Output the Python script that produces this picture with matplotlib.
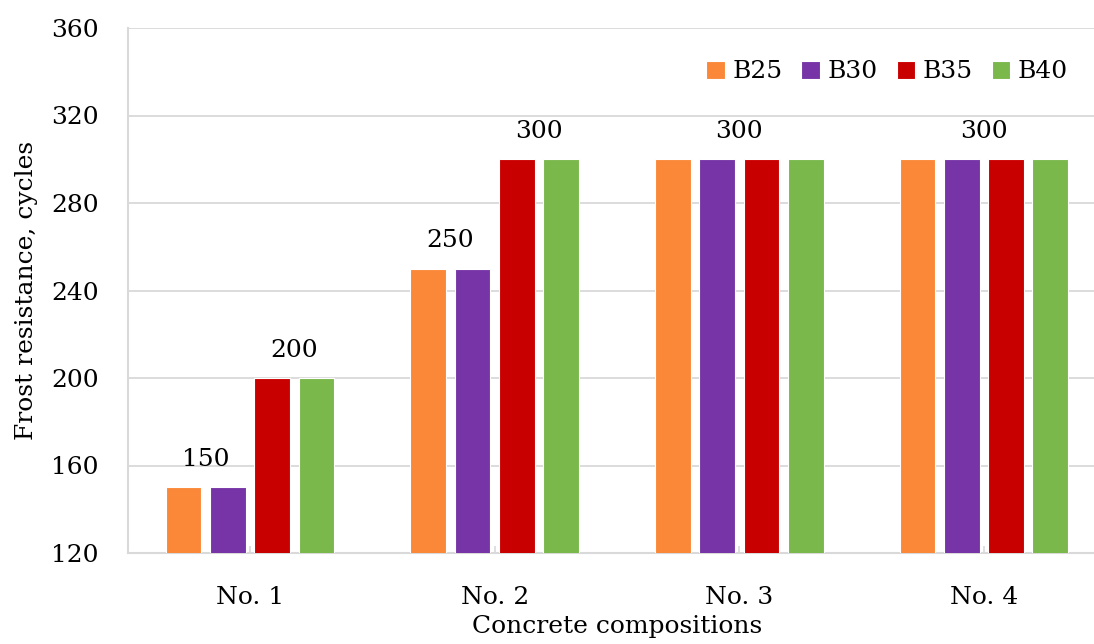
import matplotlib
matplotlib.use("Agg")
import matplotlib.pyplot as plt
import numpy as np

categories = ["No. 1", "No. 2", "No. 3", "No. 4"]
series_names = ["B25", "B30", "B35", "B40"]
b25 = [150, 250, 300, 300]
b30 = [150, 250, 300, 300]
b35 = [200, 300, 300, 300]
b40 = [200, 300, 300, 300]
series_values = [b25, b30, b35, b40]
colors = ["#FA8838", "#7634A6", "#C90000", "#7AB84C"]
y_ticks = [120, 160, 200, 240, 280, 320, 360]

plt.rcParams["font.family"] = ["DejaVu Serif"]
grid_color = "#D9D9D9"
fs = 18

W, H = 1094, 644
fig = plt.figure(figsize=(W / 100, H / 100), dpi=100)
# plot area runs past the right edge of the canvas
ax = fig.add_axes([127.7 / W, 91 / H, 978.5 / W, 525 / H])

x = np.arange(len(categories))
width = 0.146
stride = 0.181
offsets = (np.arange(len(series_names)) - 1.5) * stride
for vals, name, col, off in zip(series_values, series_names, colors, offsets):
    ax.bar(x + off, vals, width=width, color=col, edgecolor="white",
           linewidth=0.8, label=name, zorder=3)

# value labels, centred over the bars they describe
def annotate(xpos, value):
    ax.text(xpos, value + 7.5, f"{value}", ha="center", va="bottom",
            fontsize=fs, color="black", zorder=4)

for i in range(len(categories)):
    vals = [s[i] for s in series_values]
    if len(set(vals)) == 1:
        annotate(x[i], vals[0])
    else:
        annotate(x[i] + (offsets[0] + offsets[1]) / 2, vals[0])
        annotate(x[i] + (offsets[2] + offsets[3]) / 2, vals[2])

ax.set_ylim(y_ticks[0], y_ticks[-1])
ax.set_yticks(y_ticks)
ax.set_xlim(-0.5, len(categories) - 0.5)
ax.set_xticks(x)
ax.set_xticklabels(categories)
ax.yaxis.grid(True, color=grid_color, linewidth=1.3, zorder=0)
ax.set_axisbelow(True)

for side in ["top", "right"]:
    ax.spines[side].set_visible(False)
for side in ["left", "bottom"]:
    ax.spines[side].set_color(grid_color)
    ax.spines[side].set_linewidth(1.5)

ax.tick_params(axis="y", length=0, pad=21, labelsize=fs)
ax.tick_params(axis="x", length=5, direction="in", color=grid_color,
               width=1.2, pad=24, labelsize=fs)

ax.set_ylabel("Frost resistance, cycles", fontsize=fs, labelpad=9)
ax.set_xlabel("Concrete compositions", fontsize=fs, labelpad=4)

fig.legend(*ax.get_legend_handles_labels(), loc="center right", ncol=4,
           frameon=False, fontsize=fs, borderpad=0, borderaxespad=0,
           handlelength=0.75, handleheight=0.75, handletextpad=0.3,
           columnspacing=0.75, bbox_to_anchor=(1068 / W, 1 - 72 / H))

fig.savefig("out.png", dpi=100)
